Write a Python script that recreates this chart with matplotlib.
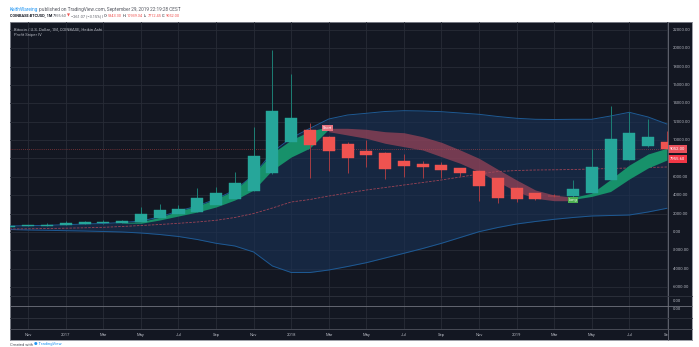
import numpy as np
import matplotlib.pyplot as plt
from matplotlib.transforms import blended_transform_factory

plt.rcParams['font.family'] = ['Roboto', 'DejaVu Sans']

W, H = 699, 347

# monthly Heikin Ashi candles, Oct 2016 .. Sep 2019 (index 0 = Oct 2016)
ha_open = [570, 625, 660, 790, 865, 955, 1015, 1120, 1515, 1950, 2220, 2960,
           3600, 4490, 6380, 9800, 11150, 10310, 9560, 8800, 8620, 7720, 7430, 7250,
           6980, 6680, 5870, 4800, 4200, 3920, 3880, 4290, 5670, 7880, 9310, 9800]
ha_close = [680, 700, 790, 940, 1045, 1075, 1190, 1920, 2390, 2495, 3690, 4240,
            5295, 8270, 13200, 12450, 9470, 8780, 8020, 8410, 6820, 7150, 7070, 6710,
            6400, 5030, 3730, 3590, 3620, 3860, 4690, 7040, 10090, 10740, 10300, 9052]
ha_high = [700, 740, 980, 1150, 1200, 1290, 1340, 2750, 3010, 2930, 4750, 4930,
           6490, 11460, 19800, 17170, 11830, 10400, 9830, 10010, 8700, 8490, 7720, 7650,
           7000, 6700, 5900, 4850, 4250, 4100, 5650, 9030, 13750, 13030, 12270, 10940]
ha_low = [560, 600, 650, 760, 850, 900, 1000, 1100, 1500, 1900, 2200, 2950,
          3580, 4480, 6340, 9800, 5840, 6670, 6450, 7040, 5760, 6010, 5840, 5840,
          6100, 3400, 3120, 3290, 3450, 3800, 3800, 4200, 5600, 7800, 9300, 8990]

# Profit Sniper IV bands
upper_band = [643, 675, 719, 784, 861, 915, 1024, 1188, 1623, 2277, 2822, 3584,
              4565, 6199, 8705, 10230, 11287, 12300, 12736, 12921, 13118, 13205, 13172, 13096,
              12954, 12812, 12573, 12377, 12268, 12246, 12268, 12268, 12627, 13030, 12518, 11756]
lower_band = [261, 207, 174, 131, 98, 44, -11, -120, -283, -501, -828, -1242,
              -1536, -2190, -3715, -4423, -4423, -4151, -3770, -3356, -2844, -2332, -1809, -1242,
              -610, 22, 479, 861, 1133, 1373, 1569, 1732, 1787, 1841, 2168, 2571]
mid_line = [316, 338, 370, 403, 447, 501, 588, 697, 806, 937, 1079, 1264,
            1569, 2005, 2604, 3258, 3530, 3911, 4238, 4565, 4837, 5110, 5382, 5655,
            5982, 6308, 6581, 6690, 6744, 6766, 6798, 6853, 6907, 6962, 7016, 7071]

# ribbons
long1_x = [6, 7, 8, 9, 10, 11, 12, 13, 14, 15, 16, 16.95]
long1_top = [1000, 1111, 1591, 2277, 2822, 3585, 4565, 6308, 8596, 10012, 10993, 11429]
long1_bot = [960, 937, 1297, 1732, 2168, 2713, 3475, 4565, 6744, 8160, 9141, 11102]
short_x = [17, 18, 19, 20, 21, 22, 23, 24, 25, 26, 27, 28, 29, 30]
short_top = [11287, 11287, 11178, 10917, 10808, 10372, 9762, 8923, 8019, 6820, 5655, 4565, 4020, 3770]
short_bot = [10917, 10557, 10198, 9653, 9283, 8923, 8193, 7474, 6559, 5469, 4380, 3661, 3399, 3399]
long2_x = [30, 31, 32, 33, 34, 35]
long2_top = [3758, 4216, 5709, 7289, 8492, 9118]
long2_bot = [3540, 3867, 4401, 5764, 6967, 7830]

tick_pos = [1, 3, 5, 7, 9, 11, 13, 15, 17, 19, 21, 23, 25, 27, 29, 31, 33, 35]
tick_labels = ['Nov', '2017', 'Mar', 'May', 'Jul', 'Sep', 'Nov', '2018', 'Mar',
               'May', 'Jul', 'Sep', 'Nov', '2019', 'Mar', 'May', 'Jul', 'Sep']
price_ticks = list(range(-6000, 22001, 2000))
last_close = 9052.00
last_price = 7955.60

BG = '#131722'
GRID = '#282c37'
TXT = '#b2b5be'
HDR = '#555861'
UP = '#26a69a'
DOWN = '#ef5350'
XLIM = (0.03, 35.06)


def px(x0, y0, x1, y1):
    return [x0 / W, 1 - y1 / H, (x1 - x0) / W, (y1 - y0) / H]


def chain(axis, x, y, parts, size, renderer):
    # lay text pieces one after another along a line
    for s, col, weight in parts:
        t = axis.text(x, y, s, fontsize=size, color=col, fontweight=weight, va='center')
        x += t.get_window_extent(renderer).width + 0.6


fig = plt.figure(figsize=(W / 100, H / 100), dpi=100, facecolor='white')
renderer = fig.canvas.get_renderer()

# dark background with vertical grid through all panes
ax_bg = fig.add_axes(px(10, 22, 692, 340))
ax_bg.set_facecolor(BG)
ax_bg.set_xticks([])
ax_bg.set_yticks([])
for s in ax_bg.spines.values():
    s.set_color('#8a8d96')
    s.set_linewidth(0.6)

ax_low = fig.add_axes(px(10, 296, 668, 329))
ax_low.set_facecolor('none')
ax_low.set_xlim(*XLIM)
ax_low.axis('off')
for t in tick_pos:
    ax_low.axvline(t, color=GRID, lw=0.6)

# main pane
ax = fig.add_axes(px(10, 22, 668, 296))
ax.set_facecolor('none')
ax.set_xlim(*XLIM)
ax.set_ylim(-6984, 22869)
ax.axis('off')
for t in tick_pos:
    ax.axvline(t, color=GRID, lw=0.6, zorder=0)
for p in price_ticks:
    ax.axhline(p, color=GRID, lw=0.6, zorder=0)

x = np.arange(len(ha_open))
ax.fill_between(x, lower_band, upper_band, color='#193256', alpha=0.6, lw=0, zorder=1)
ax.plot(x, upper_band, color='#1e5a94', lw=0.7, zorder=2)
ax.plot(x, lower_band, color='#1e5a94', lw=0.7, zorder=2)
ax.plot(x, mid_line, color='#9c4355', lw=0.6, ls=(0, (3, 1.5)), zorder=2)

ax.fill_between(long1_x, long1_bot, long1_top, color='#17916a', lw=0, zorder=3)
ax.fill_between(short_x, short_bot, short_top, color='#a8475a', alpha=0.65, lw=0, zorder=3)
ax.fill_between(long2_x, long2_bot, long2_top, color='#17916a', lw=0, zorder=3)

ax.axhline(last_close, color=DOWN, lw=0.5, ls=(0, (1, 2)), alpha=0.8, zorder=2)

o = np.array(ha_open, dtype=float)
c = np.array(ha_close, dtype=float)
colors = [UP if cc >= oo else DOWN for oo, cc in zip(o, c)]
wick_colors = ['#1d7f75' if cc >= oo else '#a63d44' for oo, cc in zip(o, c)]
ax.vlines(x, ha_low, ha_high, colors=wick_colors, lw=0.7, zorder=4)
body_h = np.maximum(np.abs(c - o), 90)
ax.bar(x, body_h, bottom=np.minimum(o, c), width=0.64, color=colors,
       edgecolor=colors, lw=0.3, zorder=5)

ax.text(16.95, 11320, 'Short', fontsize=2.8, color='white', ha='center', va='center',
        zorder=6, bbox=dict(boxstyle='square,pad=0.25', fc='#e57380', ec='none'))
ax.text(30, 3500, 'Long', fontsize=2.8, color='white', ha='center', va='center',
        zorder=6, bbox=dict(boxstyle='square,pad=0.25', fc='#4caf50', ec='none'))

# price scale labels (the ones hidden behind the last-price boxes are skipped)
tr = blended_transform_factory(fig.transFigure, ax.transData)
for p in price_ticks:
    if abs(p - last_price) < 700 or abs(p - last_close) < 700:
        continue
    ax.text(673 / W, p, f'{p:.2f}', transform=tr, fontsize=3, color=TXT,
            va='center', ha='left', clip_on=False)
for val, fc in [(last_close, '#e8505b'), (last_price, '#f23645')]:
    ax.text(670 / W, val, f'{val:.2f}', transform=tr, fontsize=3, color='white',
            va='center', ha='left', clip_on=False, zorder=7,
            bbox=dict(boxstyle='square,pad=0.45', fc=fc, ec='none'))

# time axis labels
ax_t = fig.add_axes(px(10, 329, 668, 340))
ax_t.set_xlim(*XLIM)
ax_t.set_ylim(0, 1)
ax_t.axis('off')
for t, lab in zip(tick_pos, tick_labels):
    ax_t.text(t, 0.45, lab, fontsize=3, color=TXT, ha='center', va='center', clip_on=True)

# overlay in pixel coordinates for frame lines and header text
ov = fig.add_axes([0, 0, 1, 1])
ov.set_xlim(0, W)
ov.set_ylim(H, 0)
ov.axis('off')
ov.patch.set_alpha(0)
ov.plot([668, 668], [22, 340], color='#6a6d78', lw=0.6)
for yy, col in [(296, '#2f333e'), (306, '#70737d'), (318, '#2f333e'), (329, '#50535e')]:
    ov.plot([10, 692], [yy, yy], color=col, lw=0.6)
ov.text(673, 301, '0.00', fontsize=3, color=TXT, va='center')
ov.text(673, 309.5, '0.00', fontsize=3, color=TXT, va='center')

chain(ov, 10, 9.5, [('KeithWareing', '#2196f3', 'normal'),
                    ('published on TradingView.com, September 29, 2019 22:19:28 CEST', HDR, 'normal')],
      3.4, renderer)
chain(ov, 10, 15.7, [('COINBASE:BTCUSD, 1M', '#131722', 'bold'),
                     ('7955.60', HDR, 'normal'),
                     ('▼', DOWN, 'normal'),
                     ('\u2212261.07 (\u22123.15%) |', HDR, 'normal'),
                     ('O:', '#131722', 'normal'), ('5843.30', DOWN, 'normal'),
                     ('H:', '#131722', 'normal'), ('10939.34', DOWN, 'normal'),
                     ('L:', '#131722', 'normal'), ('7712.45', DOWN, 'normal'),
                     ('C:', '#131722', 'normal'), ('9052.00', DOWN, 'normal')],
      2.75, renderer)

ov.text(14, 29, 'Bitcoin / U.S. Dollar, 1M, COINBASE, Heikin Ashi', fontsize=3,
        color=TXT, va='center')
ov.text(14, 34.5, 'Profit Sniper IV', fontsize=3, color=TXT, va='center')

chain(ov, 10, 344.5, [('Created with', HDR, 'normal'), ('\u25cf TradingView', '#2196f3', 'normal')],
      3, renderer)

fig.savefig('out.png', dpi=100, facecolor='white')
